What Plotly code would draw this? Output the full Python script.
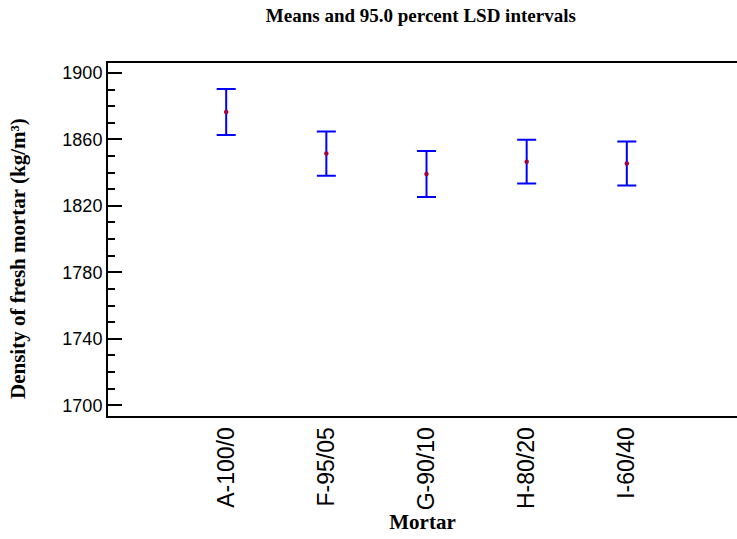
import plotly.graph_objects as go

categories = ["A-100/0", "F-95/05", "G-90/10", "H-80/20", "I-60/40"]
means = [1876.5, 1851.5, 1839.2, 1846.6, 1845.5]
half_lsd = [13.8, 13.3, 13.8, 13.2, 13.3]
y_ticks = [1700, 1740, 1780, 1820, 1860, 1900]

fig = go.Figure()
fig.add_trace(go.Scatter(
    x=categories, y=means, mode="markers",
    marker=dict(color="#A0003C", size=4.5),
    error_y=dict(type="data", array=half_lsd, symmetric=True,
                 color="#0000FF", thickness=2, width=9.5),
    showlegend=False, hoverinfo="x+y",
))

serif = "Liberation Serif, Times New Roman, serif"
sans = "Liberation Sans, Arial, sans-serif"

fig.update_layout(
    width=737, height=539,
    margin=dict(l=108, r=0, t=63, b=123),
    paper_bgcolor="white", plot_bgcolor="white",
    title=dict(text="<b>Means and 95.0 percent LSD intervals</b>",
               x=0.571, xanchor="center", y=0.972, yanchor="middle",
               font=dict(family=serif, size=19, color="black")),
    xaxis=dict(
        type="category", range=[-1.18, 5.1],
        showline=True, linecolor="black", linewidth=2, mirror=True,
        ticks="", tickangle=-90, showgrid=False, zeroline=False,
        tickfont=dict(family=sans, size=23, color="black"),
        title=dict(text="<b>Mortar</b>", standoff=0,
                   font=dict(family=serif, size=21, color="black")),
        automargin=False,
    ),
    yaxis=dict(
        range=[1693.5, 1906], tickvals=y_ticks,
        showline=True, linecolor="black", linewidth=2,
        ticks="inside", ticklen=14, tickwidth=2, tickcolor="black",
        minor=dict(ticks="inside", dtick=10, tick0=1700, ticklen=7,
                   tickwidth=2, tickcolor="black", showgrid=False),
        showgrid=False, zeroline=False,
        tickfont=dict(family=sans, size=18, color="black"),
        automargin=False,
    ),
    yaxis2=dict(
        overlaying="y", side="right", range=[1693.5, 1906], tickvals=y_ticks,
        ticks="inside", ticklen=6, tickwidth=2, tickcolor="black",
        showticklabels=False, showgrid=False, zeroline=False, showline=False,
    ),
    annotations=[dict(
        text="<b>Density of fresh mortar (kg/m³)</b>", textangle=-90,
        xref="paper", yref="paper", x=-0.143, y=0.445,
        xanchor="center", yanchor="middle", showarrow=False,
        font=dict(family=serif, size=21, color="black"),
    )],
)

fig.write_html("out.html")
